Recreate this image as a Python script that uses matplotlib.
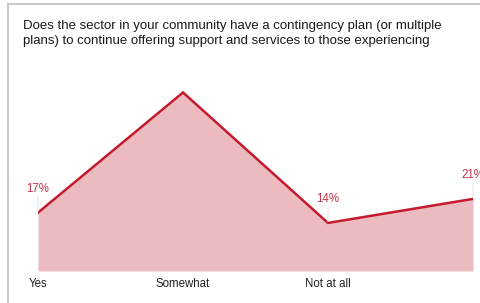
import matplotlib.pyplot as plt
from matplotlib.patches import Rectangle

categories = ["Yes", "Somewhat", "Not at all", ""]
values = [17, 52, 14, 21]
show_label = [True, False, True, True]

title = ("Does the sector in your community have a contingency plan (or multiple\n"
         "plans) to continue offering support and services to those experiencing")

plt.rcParams['font.family'] = ['Liberation Sans', 'DejaVu Sans']

fig = plt.figure(figsize=(4.81, 3.03), dpi=100)
ax = fig.add_axes([38 / 481, 1 - 271 / 303, (473 - 38) / 481, (271 - 65) / 303])

x = list(range(len(categories)))
ax.fill_between(x, values, 0, color="#ebbbbf", lw=0)
ax.plot(x, values, color="#c41a2e", lw=1.8, solid_joinstyle="miter")

for i, v in enumerate(values):
    if show_label[i]:
        ax.annotate(f"{v}%", (i, v), xytext=(0, 13), textcoords="offset points",
                    ha="center", va="bottom", fontsize=8.3, color="#c8334a",
                    arrowprops=dict(arrowstyle="-", color="#e6e6e6", lw=0.8,
                                    shrinkA=0, shrinkB=1))

ax.set_xlim(0, len(categories) - 1)
ax.set_ylim(0, 60)
ax.set_xticks(x)
ax.set_xticklabels(categories, fontsize=8.3, color="#222222")
ax.tick_params(axis="x", length=0, pad=5)
ax.set_yticks([])
for s in ax.spines.values():
    s.set_visible(False)
ax.patch.set_visible(False)

fig.text(23 / 481, 1 - 20 / 303, title, fontsize=9.5, color="#1a1a1a",
         ha="left", va="top", linespacing=1.38)

fig.add_artist(Rectangle((8 / 481, -0.5), 2, 1.5 - 3.5 / 303,
                         transform=fig.transFigure, fill=False,
                         edgecolor="#c8c8c8", lw=1.4))

fig.savefig("out.png", dpi=100)
